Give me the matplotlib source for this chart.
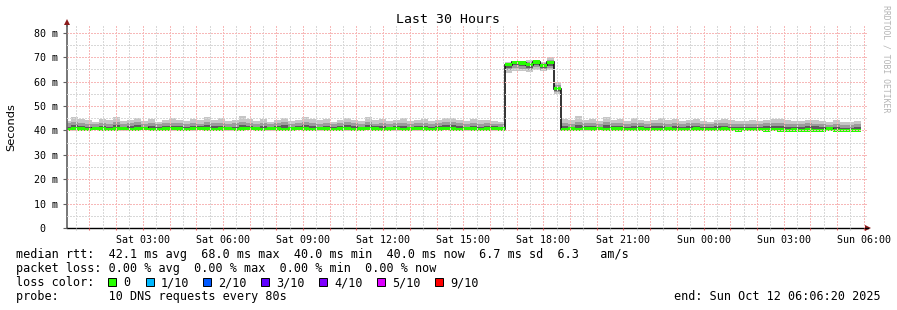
import matplotlib
matplotlib.use("Agg")
import matplotlib.pyplot as plt
import numpy as np
from matplotlib.patches import Rectangle
from matplotlib.ticker import FuncFormatter, MultipleLocator

plt.rcParams["font.family"] = ["DejaVu Sans Mono"]

# sampling: hours since Sat 00:00, one bin every ~16 min
bin_start_hours = 0.044
bin_hours = 0.262

# rtt per bin in ms: median plus three smoke bands (outer, middle, inner)
rtt_median = [
    40.5, 40.7, 40.6, 40.5, 40.8, 40.6, 40.4, 40.6, 40.7, 40.5,
    40.6, 40.8, 40.5, 40.4, 40.6, 40.7, 40.6, 40.5, 40.7, 40.8,
    40.6, 40.5, 40.6, 40.7, 40.5, 40.6, 40.9, 40.6, 40.5, 40.7,
    40.6, 40.5, 40.6, 40.8, 40.6, 40.5, 40.7, 40.6, 40.4, 40.6,
    40.7, 40.5, 40.6, 40.8, 40.6, 40.5, 40.6, 40.7, 40.5, 40.6,
    40.7, 40.6, 40.5, 40.6, 40.8, 40.6, 40.5, 40.7, 40.6, 40.5,
    40.6, 40.7, 40.6, 66.9, 67.9, 67.6, 66.9, 68.0, 66.7, 67.9,
    57.1, 40.4, 40.6, 40.5, 40.7, 40.6, 40.7, 40.5, 40.6, 40.6,
    40.5, 40.4, 40.6, 40.5, 40.4, 40.5, 40.6, 40.5, 40.4, 40.5,
    40.6, 40.4, 40.5, 40.4, 40.6, 40.3, 40.2, 40.4, 40.3, 40.3,
    40.2, 40.3, 40.2, 40.1, 40.2, 40.1, 40.2, 40.1, 40.0, 40.6,
    40.1, 40.0, 40.1, 40.0,
]
rtt_hi_outer = [
    43.9, 45.4, 44.8, 44.3, 43.4, 44.6, 44.1, 45.3, 43.7, 44.4,
    45.1, 44.0, 44.7, 43.6, 44.3, 45.0, 44.4, 43.8, 44.5, 44.1,
    45.5, 44.2, 44.9, 43.7, 44.4, 45.8, 44.6, 44.0, 44.7, 43.5,
    44.3, 45.1, 43.9, 44.4, 45.6, 44.5, 44.1, 44.8, 43.6, 44.2,
    45.0, 44.4, 43.7, 45.3, 44.1, 44.6, 43.9, 44.3, 44.9, 43.8,
    44.4, 44.7, 44.0, 44.3, 44.9, 45.1, 44.2, 43.8, 44.6, 44.1,
    44.4, 43.9, 43.5, 68.0, 68.2, 68.1, 68.8, 68.3, 68.0, 70.2,
    59.8, 44.6, 44.1, 45.8, 44.4, 44.7, 43.9, 45.6, 44.3, 44.5,
    44.0, 44.9, 44.2, 43.7, 44.4, 45.0, 44.1, 44.5, 43.8, 44.3,
    44.7, 44.0, 43.6, 44.4, 44.8, 44.1, 43.9, 43.7, 44.2, 43.9,
    44.4, 44.5, 44.6, 44.1, 43.7, 44.0, 44.4, 44.1, 43.8, 43.4,
    44.1, 43.6, 43.3, 43.9,
]
rtt_hi_mid = [
    42.9, 43.3, 43.2, 42.7, 42.5, 43.1, 42.8, 43.4, 42.7, 43.0,
    43.3, 42.8, 43.1, 42.6, 42.9, 43.2, 43.0, 42.7, 42.9, 42.8,
    43.5, 42.9, 43.2, 42.6, 43.0, 43.4, 43.1, 42.8, 43.1, 42.5,
    43.0, 43.3, 42.7, 43.1, 43.5, 42.9, 42.8, 43.2, 42.6, 42.9,
    43.3, 43.0, 42.6, 43.4, 42.8, 43.1, 42.7, 42.9, 43.2, 42.6,
    43.0, 43.2, 42.8, 42.9, 43.3, 43.4, 42.9, 42.7, 43.1, 42.8,
    43.0, 42.8, 42.5, 67.5, 68.1, 67.9, 67.8, 68.2, 67.4, 69.0,
    58.6, 43.1, 42.8, 43.5, 43.0, 43.1, 42.7, 43.3, 42.9, 43.1,
    42.8, 43.2, 42.9, 42.6, 43.0, 43.2, 42.8, 43.1, 42.7, 42.9,
    43.1, 42.7, 42.5, 42.9, 43.2, 42.8, 42.6, 42.5, 42.8, 42.6,
    42.9, 43.0, 43.1, 42.7, 42.5, 42.7, 43.0, 42.8, 42.5, 42.3,
    42.7, 42.4, 42.2, 42.6,
]
rtt_hi_inner = [
    41.6, 42.2, 41.9, 41.5, 41.6, 42.0, 41.4, 42.3, 41.6, 41.8,
    42.1, 41.6, 41.9, 41.4, 41.7, 42.0, 41.8, 41.5, 41.8, 41.9,
    42.3, 41.7, 41.9, 41.6, 41.6, 42.2, 41.9, 41.6, 41.8, 41.5,
    41.8, 42.1, 41.5, 41.9, 42.2, 41.7, 41.6, 42.0, 41.4, 41.7,
    42.1, 41.8, 41.5, 42.2, 41.7, 41.9, 41.5, 41.8, 42.0, 41.5,
    41.8, 42.0, 41.6, 41.7, 42.1, 42.2, 41.7, 41.6, 41.9, 41.6,
    41.8, 41.7, 41.4, 67.2, 68.0, 67.8, 67.3, 68.1, 67.0, 68.3,
    57.8, 41.9, 41.6, 42.3, 41.8, 41.9, 41.5, 42.1, 41.7, 41.9,
    41.6, 42.0, 41.7, 41.4, 41.8, 42.0, 41.6, 41.9, 41.5, 41.7,
    41.9, 41.5, 41.3, 41.7, 42.0, 41.6, 41.4, 41.3, 41.6, 41.4,
    41.7, 41.8, 41.9, 41.5, 41.3, 41.5, 41.8, 41.9, 41.3, 41.1,
    41.5, 41.2, 41.0, 41.4,
]
rtt_lo_inner = [
    40.2, 40.3, 40.3, 40.2, 40.4, 40.3, 40.1, 40.2, 40.4, 40.2,
    40.3, 40.4, 40.2, 40.1, 40.3, 40.3, 40.3, 40.2, 40.4, 40.4,
    40.3, 40.2, 40.3, 40.4, 40.2, 40.3, 40.5, 40.3, 40.2, 40.4,
    40.3, 40.2, 40.3, 40.4, 40.3, 40.2, 40.4, 40.3, 40.1, 40.3,
    40.4, 40.2, 40.3, 40.4, 40.3, 40.2, 40.3, 40.4, 40.2, 40.3,
    40.4, 40.3, 40.2, 40.3, 40.4, 40.3, 40.2, 40.4, 40.3, 40.2,
    40.3, 40.4, 40.3, 65.6, 66.6, 66.2, 65.5, 66.8, 65.4, 66.4,
    56.2, 40.1, 40.3, 40.2, 40.4, 40.3, 40.4, 40.2, 40.3, 40.3,
    40.2, 40.1, 40.3, 40.2, 40.1, 40.2, 40.3, 40.2, 40.1, 40.2,
    40.3, 40.1, 40.2, 40.1, 40.3, 40.0, 39.9, 40.1, 40.0, 40.0,
    39.9, 40.0, 39.9, 39.8, 39.9, 39.8, 39.9, 39.8, 39.7, 40.3,
    39.8, 39.7, 39.8, 39.7,
]
rtt_lo_mid = [
    40.0, 40.1, 40.1, 40.0, 40.2, 40.0, 39.9, 40.1, 40.1, 40.0,
    40.1, 40.2, 40.0, 39.9, 40.1, 40.1, 40.0, 40.0, 40.1, 40.2,
    40.1, 40.0, 40.1, 40.1, 40.0, 40.1, 40.3, 40.0, 40.0, 40.1,
    40.0, 40.0, 40.1, 40.2, 40.0, 40.0, 40.1, 40.1, 39.9, 40.1,
    40.1, 40.0, 40.1, 40.2, 40.0, 40.0, 40.1, 40.1, 40.0, 40.1,
    40.1, 40.0, 40.0, 40.1, 40.2, 40.1, 40.0, 40.1, 40.0, 40.0,
    40.1, 40.1, 40.0, 64.8, 65.6, 65.3, 64.7, 65.8, 64.9, 65.6,
    55.6, 39.9, 40.1, 40.0, 40.1, 40.0, 40.2, 40.0, 40.1, 40.0,
    40.0, 39.9, 40.1, 40.0, 39.9, 40.0, 40.1, 40.0, 39.9, 40.0,
    40.1, 39.9, 40.0, 39.9, 40.1, 39.8, 39.7, 39.9, 39.8, 39.8,
    39.7, 39.8, 39.7, 39.6, 39.7, 39.6, 39.7, 39.6, 39.5, 40.1,
    39.6, 39.5, 39.6, 39.5,
]
rtt_lo_outer = [
    39.8, 39.9, 39.9, 39.8, 40.0, 39.8, 39.7, 39.9, 39.9, 39.8,
    39.9, 40.0, 39.8, 39.7, 39.9, 39.9, 39.8, 39.8, 39.9, 40.0,
    39.9, 39.8, 39.9, 39.9, 39.8, 39.9, 40.1, 39.8, 39.8, 39.9,
    39.8, 39.8, 39.9, 40.0, 39.8, 39.8, 39.9, 39.9, 39.7, 39.9,
    39.9, 39.8, 39.9, 40.0, 39.8, 39.8, 39.9, 39.9, 39.8, 39.9,
    39.9, 39.8, 39.8, 39.9, 40.0, 39.9, 39.8, 39.9, 39.8, 39.8,
    39.9, 39.9, 39.8, 63.6, 64.5, 64.3, 63.9, 64.8, 64.2, 64.7,
    54.9, 39.7, 39.9, 39.8, 39.9, 39.8, 40.0, 39.8, 39.9, 39.8,
    39.8, 39.7, 39.9, 39.8, 39.7, 39.8, 39.9, 39.8, 39.7, 39.8,
    39.9, 39.7, 39.8, 39.7, 39.9, 39.6, 39.5, 39.7, 39.6, 39.6,
    39.5, 39.6, 39.5, 39.4, 39.5, 39.4, 39.5, 39.4, 39.3, 39.9,
    39.4, 39.3, 39.4, 39.3,
]

loss_labels = ["0", "1/10", "2/10", "3/10", "4/10", "5/10", "9/10"]
loss_colors = ["#26ff00", "#00b8ff", "#0059ff", "#5e00ff", "#7e00ff", "#dd00ff", "#ff0000"]

stats_line = "median rtt:  42.1 ms avg  68.0 ms max  40.0 ms min  40.0 ms now  6.7 ms sd  6.3   am/s"
loss_line = "packet loss: 0.00 % avg  0.00 % max  0.00 % min  0.00 % now"
probe_line = "probe:       10 DNS requests every 80s"
end_line = "end: Sun Oct 12 06:06:20 2025"

W, H = 897, 310
fig = plt.figure(figsize=(W / 100, H / 100), dpi=100)
ax = fig.add_axes([67 / W, (H - 228.3) / H, 801 / W, 202.3 / H])

n = len(rtt_median)
edges = bin_start_hours + bin_hours * np.arange(n + 1)
med = np.asarray(rtt_median)

ax.stairs(rtt_hi_outer, edges, baseline=rtt_lo_outer, fill=True, color="#c6c6c6", lw=0)
ax.stairs(rtt_hi_mid, edges, baseline=rtt_lo_mid, fill=True, color="#9c9c9c", lw=0)
ax.stairs(rtt_hi_inner, edges, baseline=rtt_lo_inner, fill=True, color="#5c5c5c", lw=0)
ax.stairs(med, edges, baseline=None, color="#111111", lw=1.2)
ax.stairs(med + 0.65, edges, baseline=med - 0.65, fill=True, color=loss_colors[0], lw=0)

ax.set_xlim(0.161, 30.161)
ax.set_ylim(0, 82.7)

# axes, ticks and grid in rrdtool style
ax.xaxis.set_major_locator(MultipleLocator(1))
ax.xaxis.set_minor_locator(MultipleLocator(0.5))
ax.yaxis.set_major_locator(MultipleLocator(10))
ax.yaxis.set_minor_locator(MultipleLocator(5))


def hour_label(h, _pos):
    h = int(round(h))
    if h % 3:
        return ""
    day = "Sat" if h < 24 else "Sun"
    return f"{day} {h % 24:02d}:00"


ax.xaxis.set_major_formatter(FuncFormatter(hour_label))
ax.yaxis.set_major_formatter(FuncFormatter(lambda v, _p: "0  " if v == 0 else f"{v:.0f} m"))
ax.tick_params(axis="x", which="major", direction="out", length=1.6, width=0.8,
               color="#e06060", labelsize=7.2, pad=3.4)
ax.tick_params(axis="x", which="minor", direction="out", length=1.6, width=0.8, color="#c0c0c0")
ax.tick_params(axis="y", which="major", direction="out", length=3, width=0.8,
               color="#606060", labelsize=7.2, pad=3.5)
ax.tick_params(axis="y", which="minor", length=0)

ax.set_axisbelow(False)
ax.grid(which="major", color="#f7b8b8", lw=0.75, ls=(0, (1, 1)), antialiased=False)
ax.grid(which="minor", color="#d8d8d8", lw=0.75, ls=(0, (1, 1)), antialiased=False)

for side in ("top", "right"):
    ax.spines[side].set_visible(False)
ax.spines["left"].set_color("#606060")
ax.spines["left"].set_linewidth(1.2)
ax.spines["bottom"].set_color("black")
ax.spines["bottom"].set_linewidth(1.0)

ax.plot([0, 0], [1, 1 + 4 / 202.3], color="#606060", lw=1.2, transform=ax.transAxes, clip_on=False)
ax.plot([0], [1 + 4 / 202.3], marker="^", ms=4.5, color="#8b1a1a", mew=0,
        transform=ax.transAxes, clip_on=False)
ax.plot([1.0], [0], marker=">", ms=4.5, color="#8b1a1a", mew=0,
        transform=ax.transAxes, clip_on=False)


def fig_text(x, y, s, **kw):
    fig.text(x / W, 1 - y / H, s, **kw)


fig_text(448, 19.5, "Last 30 Hours", fontsize=9.5, ha="center", va="center")
fig_text(11, 127, "Seconds", fontsize=8.2, family="DejaVu Sans", rotation=90,
         ha="center", va="center")
fig_text(886, 5, "RRDTOOL / TOBI OETIKER", fontsize=5.9, color="#b4b4b4",
         rotation=270, ha="center", va="top")

fig_text(16, 258.3, stats_line, fontsize=8.5, va="baseline")
fig_text(16, 272, loss_line, fontsize=8.5, va="baseline")
fig_text(16, 286, "loss color:", fontsize=8.5, va="baseline")
fig_text(16, 300, probe_line, fontsize=8.5, va="baseline")
fig_text(881, 300, end_line, fontsize=8.5, va="baseline", ha="right")

square_x = [108, 146, 203, 261, 319, 377, 435]
for sx, label, color in zip(square_x, loss_labels, loss_colors):
    fig.add_artist(Rectangle((sx / W, 1 - 286 / H), 8 / W, 8 / H, transform=fig.transFigure,
                             facecolor=color, edgecolor="black", lw=0.7))
    fig_text(sx + 15, 286, label, fontsize=8.5, va="baseline")

fig.savefig("out.png", dpi=100)
